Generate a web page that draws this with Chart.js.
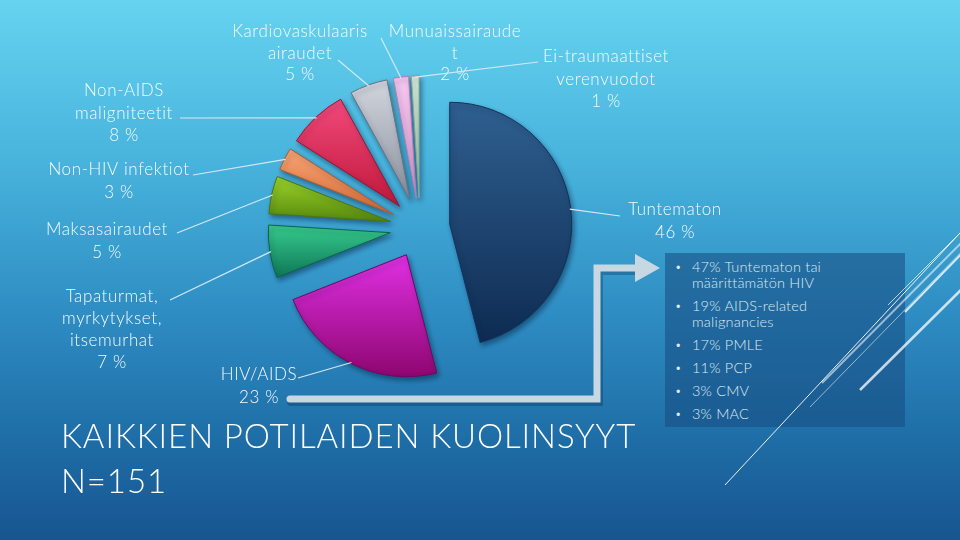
<!DOCTYPE html>
<html>
<head>
<meta charset="utf-8">
<script src="https://cdn.jsdelivr.net/npm/chart.js@4.4.0/dist/chart.umd.min.js"></script>
<style>
  html, body { margin: 0; padding: 0; }
  body {
    width: 960px; height: 540px; overflow: hidden; position: relative;
    font-family: Lato, 'Noto Sans', sans-serif;
    background: linear-gradient(180deg, #66d3f0 0%, #48b3dc 30%, #2e8dc3 58%, #1f6fa8 80%, #175590 100%);
  }
  #deco, #pie { position: absolute; left: 0; top: 0; }
  .title {
    position: absolute; left: 61px; top: 413px; color: #fff;
    font-size: 33px; font-weight: 300; line-height: 45px; white-space: nowrap;
    letter-spacing: 0.9px;
  }
  .box {
    position: absolute; left: 665px; top: 253px; width: 240px; height: 174px;
    background: rgba(22, 74, 128, 0.55);
  }
  .box ul { list-style: none; margin: 0; padding: 6px 0 0 0; }
  .box li {
    position: relative; padding-left: 27px; width: 190px; color: #dde9f2;
    font-size: 14.5px; font-weight: 300; line-height: 16px; margin-bottom: 7px;
    letter-spacing: 0.2px;
  }
  .box li::before { content: '\2022'; position: absolute; left: 10px; top: 0; font-size: 11px; }
</style>
</head>
<body>
<div class="box"><ul id="hivList"></ul></div>
<svg id="deco" width="960" height="540">
  <g stroke="#fff" fill="none">
    <line x1="725" y1="485" x2="975" y2="217" stroke-width="1" opacity="0.9"/>
    <line x1="822" y1="383" x2="975" y2="229" stroke-width="2" opacity="0.55"/>
    <line x1="810" y1="407" x2="975" y2="238" stroke-width="1" opacity="0.55"/>
    <line x1="888" y1="305" x2="975" y2="218" stroke-width="1" opacity="0.7"/>
    <line x1="860" y1="390" x2="975" y2="276" stroke-width="2.5" opacity="0.75"/>
    <line x1="905" y1="312" x2="975" y2="240" stroke-width="2" opacity="0.8"/>
  </g>
  <!-- arrow from HIV/AIDS to the breakdown box -->
  <polyline points="290,400 598,400 598,269 638,269" fill="none" stroke="rgba(0,40,80,0.3)" stroke-width="8" stroke-linecap="round" transform="translate(1,2)"/>
  <polyline points="290,399 597,399 597,268 638,268" fill="none" stroke="#c8d8e2" stroke-width="7" stroke-linecap="round"/>
  <polygon points="635,254 660,268 635,282" fill="#c8d8e2"/>
</svg>
<canvas id="pie" width="960" height="540"></canvas>
<div class="title">KAIKKIEN POTILAIDEN KUOLINSYYT<br>N=151</div>

<script>
// causes of death, share of all patients (%)
const categories = [
    ['Tuntematon'],
    ['HIV/AIDS'],
    ['Tapaturmat,', 'myrkytykset,', 'itsemurhat'],
    ['Maksasairaudet'],
    ['Non-HIV infektiot'],
    ['Non-AIDS', 'maligniteetit'],
    ['Kardiovaskulaaris', 'airaudet'],
    ['Munuaissairaude', 't'],
    ['Ei-traumaattiset', 'verenvuodot']
];
const shares = [46, 23, 7, 5, 3, 8, 5, 2, 1];

// HIV/AIDS breakdown shown in the box
const hivShares = [47, 19, 17, 11, 3, 3];
const hivCauses = ['Tuntematon tai määrittämätön HIV', 'AIDS-related malignancies', 'PMLE', 'PCP', 'CMV', 'MAC'];

const sliceColors = [
    ['#2f6090', '#0e2b52'],
    ['#e030e4', '#8e0670'],
    ['#36cc8e', '#0f7656'],
    ['#9cd42a', '#56880c'],
    ['#f7a474', '#d66c36'],
    ['#f2497c', '#c0183a'],
    ['#d2d6de', '#8a8f9c'],
    ['#f6c8f0', '#d898ce'],
    ['#d8ecd8', '#a4c4ac']
];
const borderColors = ['#12325a', '#6e0860', '#0c6448', '#4c7410', '#b05a2e', '#981436', '#6c7280', '#b880b4', '#88a890'];

// where each label block sits and where its leader line starts
const labelLayout = [
    { x: 675, y: 210, lh: 23, from: [620, 216] },
    { x: 259, y: 375, lh: 23, from: [298, 378] },
    { x: 112, y: 297, lh: 21.7, from: [170, 300] },
    { x: 107, y: 230, lh: 22.5, from: [177, 233] },
    { x: 119, y: 170, lh: 23, from: [193, 175] },
    { x: 124, y: 91, lh: 22.5, from: [180, 118] },
    { x: 300, y: 32, lh: 21.5, from: [338, 60] },
    { x: 455, y: 32, lh: 21.5, from: [381, 38] },
    { x: 606, y: 57, lh: 22.5, from: [538, 62] }
];

const EXPLODE = 30;
const RADIUS = 122;

const list = document.getElementById('hivList');
hivShares.forEach((v, i) => {
    const li = document.createElement('li');
    li.textContent = v + '% ' + hivCauses[i];
    list.appendChild(li);
});

// push every slice out along its middle angle and give it a vertical gradient
const explodePlugin = {
    id: 'explode',
    afterDatasetsUpdate(chart) {
        const ctx = chart.ctx;
        chart.getDatasetMeta(0).data.forEach((el, i) => {
            const half = (el.startAngle + el.endAngle) / 2;
            el.x += Math.cos(half) * EXPLODE;
            el.y += Math.sin(half) * EXPLODE;
            let minY = el.y, maxY = el.y;
            for (let k = 0; k <= 20; k++) {
                const a = el.startAngle + (el.endAngle - el.startAngle) * k / 20;
                const py = el.y + Math.sin(a) * el.outerRadius;
                minY = Math.min(minY, py);
                maxY = Math.max(maxY, py);
            }
            const g = ctx.createLinearGradient(0, minY, 0, maxY);
            g.addColorStop(0, sliceColors[i][0]);
            g.addColorStop(1, sliceColors[i][1]);
            el.options = Object.assign({}, el.options, { backgroundColor: g });
        });
    }
};

const labelPlugin = {
    id: 'sliceLabels',
    beforeDatasetsDraw(chart) {
        const ctx = chart.ctx;
        ctx.save();
        ctx.shadowColor = 'rgba(0, 25, 50, 0.45)';
        ctx.shadowBlur = 5;
        ctx.shadowOffsetX = 2;
        ctx.shadowOffsetY = 3;
    },
    afterDatasetsDraw(chart) {
        const ctx = chart.ctx;
        ctx.restore();
        ctx.save();
        ctx.font = '300 17px Lato, "Noto Sans", sans-serif';
        ctx.letterSpacing = '0.6px';
        ctx.textAlign = 'center';
        ctx.textBaseline = 'middle';
        chart.getDatasetMeta(0).data.forEach((el, i) => {
            const lay = labelLayout[i];
            const half = (el.startAngle + el.endAngle) / 2;
            const ex = el.x + Math.cos(half) * (el.outerRadius - 1);
            const ey = el.y + Math.sin(half) * (el.outerRadius - 1);
            ctx.strokeStyle = '#d2e8f4';
            ctx.lineWidth = 1.2;
            ctx.beginPath();
            ctx.moveTo(lay.from[0], lay.from[1]);
            ctx.lineTo(ex, ey);
            ctx.stroke();

            const lines = categories[i].concat([shares[i] + ' %']);
            ctx.fillStyle = '#f4fafd';
            lines.forEach((t, k) => ctx.fillText(t, lay.x, lay.y + k * lay.lh));
        });
        ctx.restore();
    }
};

const ctx = document.getElementById('pie').getContext('2d');
const chart = new Chart(ctx, {
    type: 'pie',
    data: {
        labels: categories.map(c => c.join(' ')),
        datasets: [{
            data: shares,
            backgroundColor: sliceColors.map(c => c[0]),
            borderColor: borderColors,
            borderWidth: 1,
            radius: RADIUS
        }]
    },
    options: {
        responsive: false,
        animation: false,
        events: [],
        radius: RADIUS,
        layout: { padding: { left: 0, right: 120, top: 0, bottom: 84 } },
        plugins: {
            legend: { display: false },
            tooltip: { enabled: false }
        }
    },
    plugins: [explodePlugin, labelPlugin]
});
</script>
</body>
</html>
